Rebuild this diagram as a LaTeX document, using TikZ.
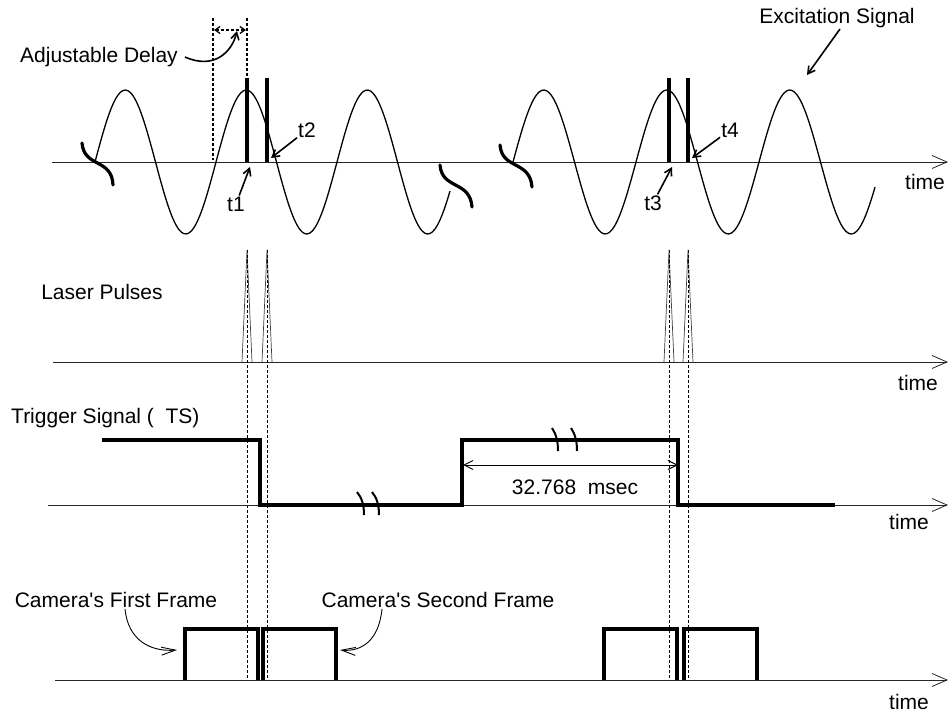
\documentclass[tikz,border=0pt]{standalone}
\usepackage{fontspec}
\setmainfont{Liberation Sans}
\usetikzlibrary{arrows.meta,positioning}

\begin{document}
\begin{tikzpicture}[
    x=1pt, y=-1pt,
    font=\fontsize{21}{24}\selectfont,
    lbl/.style={inner sep=1pt},
    axis/.style={line width=0.8pt, black!85,
      -{Straight Barb[length=15pt,width=13pt]}},
    wave/.style={line width=1.3pt},
    sig/.style={line width=3.6pt},
    brk/.style={line width=3.2pt, line cap=round},
    brkmark/.style={line width=2pt},
    guide/.style={line width=0.8pt, dash pattern=on 3pt off 2pt},
    pulse/.style={line width=0.7pt, black!75},
    ptr/.style={-{Straight Barb[length=7pt,width=8pt]}, line width=1.6pt},
    hollow/.style={-{Straight Barb[length=14pt,width=8pt]}, line width=0.9pt},
  ]
    \useasboundingbox (0,0) rectangle (948,714);

    % --- excitation signal ---
    \draw[axis] (52,162) -- (948,162);
    \node[lbl] (time1) at (925,182) {time};
    \draw[wave] plot[domain=95:450, samples=140, smooth]
      (\x, {162-72*sin((\x-95)/121*360)});
    \draw[wave] plot[domain=513:875, samples=140, smooth]
      (\x, {162-72*sin((\x-513)/123*360)});
    \draw[brk] (82,143) .. controls (84,168) and (112,158) .. (113,185);
    \draw[brk] (440,165) .. controls (442,190) and (470,180) .. (472,207);
    \draw[brk] (500,145) .. controls (502,170) and (530,160) .. (532,187);
    \node[lbl] (exc) at (837,18) {Excitation Signal};
    \coordinate (exc-tip) at (807,75);
    \draw[ptr] ([xshift=3pt]exc.south) -- (exc-tip);

    % pulse instants
    \draw[sig] (247,78) -- (247,162);
    \draw[sig] (267,78) -- (267,162);
    \draw[sig] (669,78) -- (669,162);
    \draw[sig] (688,78) -- (688,162);
    \node[lbl] (t1) at (236,204) {t1};
    \node[lbl] (t2) at (307,130) {t2};
    \node[lbl] (t3) at (653,203) {t3};
    \node[lbl] (t4) at (730,130) {t4};
    \coordinate (t1-tip) at (250,167);
    \coordinate (t2-tip) at (271,158);
    \coordinate (t3-tip) at (672,167);
    \coordinate (t4-tip) at (692,158);
    \draw[ptr] (t1) -- (t1-tip);
    \draw[ptr] (t2) -- (t2-tip);
    \draw[ptr] (t3) -- (t3-tip);
    \draw[ptr] (t4) -- (t4-tip);

    % adjustable delay
    \draw[guide, line width=1.2pt] (213,18) -- (213,160);
    \draw[guide, line width=1.2pt] (247,18) -- (247,78);
    \coordinate (dl-a) at (214,30);
    \coordinate (dl-b) at (246,30);
    \draw[guide, line width=1.3pt,
      {Straight Barb[length=5pt,width=7pt]}-{Straight Barb[length=5pt,width=7pt]}]
      (dl-a) -- (dl-b);
    \node[lbl] (delay) at (99,57) {Adjustable Delay};
    \coordinate (delay-tip) at (237,31);
    \draw[ptr] ([xshift=6pt]delay.east) .. controls (214,70) and (232,52)
      .. (delay-tip);

    % --- laser pulses ---
    \draw[axis] (53,362) -- (948,362);
    \node[lbl] (time2) at (918,383) {time};
    \node[lbl] (laser) at (102,292) {Laser Pulses};
    \draw[pulse] (242,362) -- (247,250) -- (252,362);
    \draw[pulse] (262,362) -- (267,250) -- (272,362);
    \draw[pulse] (664,362) -- (669,250) -- (674,362);
    \draw[pulse] (683,362) -- (688,250) -- (693,362);
    \draw[guide] (247,250) -- (247,679);
    \draw[guide] (267,250) -- (267,679);
    \draw[guide] (669,250) -- (669,679);
    \draw[guide] (688,250) -- (688,679);

    % --- trigger signal ---
    \draw[axis] (48,505) -- (948,505);
    \node[lbl] (time3) at (909,522) {time};
    \node[lbl, anchor=west] (trig) at (10,418) {Trigger Signal (\ \ TS)};
    \draw[sig] (102,440) -- (260,440) -- (260,505) -- (462,505) -- (462,440)
      -- (678,440) -- (678,505) -- (835,505);
    \draw[brkmark] (357,492) .. controls (362,498) and (364,505) .. (364,515);
    \draw[brkmark] (372,492) .. controls (377,498) and (379,505) .. (379,515);
    \draw[brkmark] (552,428) .. controls (556,434) and (558,441) .. (558,451);
    \draw[brkmark] (571,428) .. controls (575,434) and (577,441) .. (577,451);
    \coordinate (dim-a) at (463,465);
    \coordinate (dim-b) at (678,465);
    \draw[line width=1pt,
      {Straight Barb[length=9pt,width=9pt]}-{Straight Barb[length=9pt,width=9pt]}]
      (dim-a) -- (dim-b);
    \node[lbl] (period) at (575,487) {32.768\ \ msec};

    % --- camera frames ---
    \draw[axis] (55,680) -- (948,680);
    \node[lbl] (time4) at (909,702) {time};
    \draw[sig] (185,680) -- (185,629) -- (258,629) -- (258,680);
    \draw[sig] (263,680) -- (263,629) -- (336,629) -- (336,680);
    \draw[sig] (604,680) -- (604,629) -- (677,629) -- (677,680);
    \draw[sig] (684,680) -- (684,629) -- (757,629) -- (757,680);
    \node[lbl] (cam1) at (116,600) {Camera\textquotesingle s First Frame};
    \node[lbl] (cam2) at (438,600) {Camera\textquotesingle s Second Frame};
    \coordinate (cam1-tip) at (177,650);
    \coordinate (cam2-tip) at (340,650);
    \draw[hollow] ([xshift=9pt]cam1.south) .. controls (128,640) and (150,652)
      .. (cam1-tip);
    \draw[hollow] ([xshift=-56pt]cam2.south) .. controls (379,640) and (362,652)
      .. (cam2-tip);
  \end{tikzpicture}
\end{document}
